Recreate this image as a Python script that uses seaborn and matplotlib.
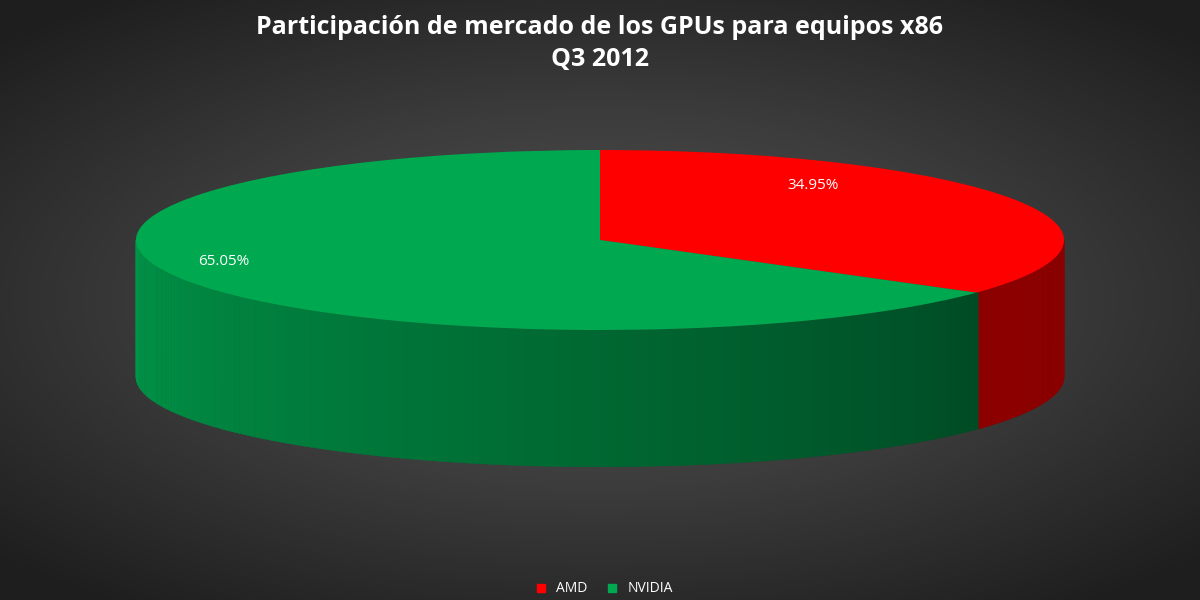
import numpy as np
import matplotlib
matplotlib.use("Agg")
import matplotlib.pyplot as plt
import seaborn as sns
from matplotlib.patches import Polygon

sns.set_theme(style="white")
plt.rcParams['font.family'] = ['Open Sans', 'DejaVu Sans']

# --- Data ---
labels = ["AMD", "NVIDIA"]
shares = [34.95, 65.05]
colors = ["#ff0000", "#00a94f"]
title = "Participación de mercado de los GPUs para equipos x86\nQ3 2012"

fig = plt.figure(figsize=(12, 6), dpi=100)

# radial gradient background
bg = fig.add_axes([0, 0, 1, 1])
yy, xx = np.mgrid[-1:1:300j, -1:1:600j]
r = np.sqrt((xx / 1.0) ** 2 + (yy / 0.9) ** 2)
bg.imshow(np.clip(r, 0, 1.4), cmap=sns.blend_palette(["#545454", "#3c3c3c", "#1e1e1e"], as_cmap=True),
          extent=[0, 1, 0, 1], aspect="auto", vmin=0, vmax=1.4)
bg.axis("off")

ax = fig.add_axes([0, 0, 1, 1])
depth = 1.52

# side band, drawn as thin angular slices
start = 90.0
bounds = []
for s in shares:
    end = start - s * 3.6
    bounds.append((end, start))
    start = end

for (a0, a1), lab in zip(bounds, labels):
    for a in np.arange(180, 360, 0.5):
        if ((a - a0) % 360) > (a1 - a0):
            continue
        t = (a - 180) / 180.0
        if lab == "NVIDIA":
            c = np.array([0, 150, 72]) * (1 - 0.62 * t) / 255
        else:
            c = np.array([140, 0, 0]) / 255
        th = np.radians([a, a + 0.6])
        xs = np.cos(th)
        ys = np.sin(th)
        poly = [(xs[0], ys[0]), (xs[1], ys[1]), (xs[1], ys[1] - depth), (xs[0], ys[0] - depth)]
        ax.add_patch(Polygon(poly, closed=True, facecolor=c, edgecolor=c, lw=0.3))

wedges, texts, autotexts = ax.pie(shares, colors=colors, startangle=90, counterclock=False,
                                  radius=1, center=(0, 0), autopct="%.2f%%", pctdistance=0.62,
                                  textprops=dict(color="white", fontsize=11), frame=True,
                                  wedgeprops=dict(linewidth=0))
ax.set_xlim(-600 / 464, 600 / 464)
ax.set_ylim(-360 / 90, 240 / 90)
ax.set_aspect("auto")
ax.axis("off")
autotexts[0].set_position((0.46, 0.61))
autotexts[1].set_position((-0.81, -0.24))

fig.text(0.5, 0.975, title, ha="center", va="top", color="white", fontsize=18,
         fontweight="bold", linespacing=1.35)

handles = [plt.Line2D([], [], marker="s", ls="", color=c, markersize=6) for c in colors]
fig.legend(handles, labels, loc="lower center", ncol=2, frameon=False, fontsize=10,
           labelcolor="white", handletextpad=0.1, columnspacing=0.8, bbox_to_anchor=(0.5, -0.015))

fig.savefig("out.png", dpi=100)
